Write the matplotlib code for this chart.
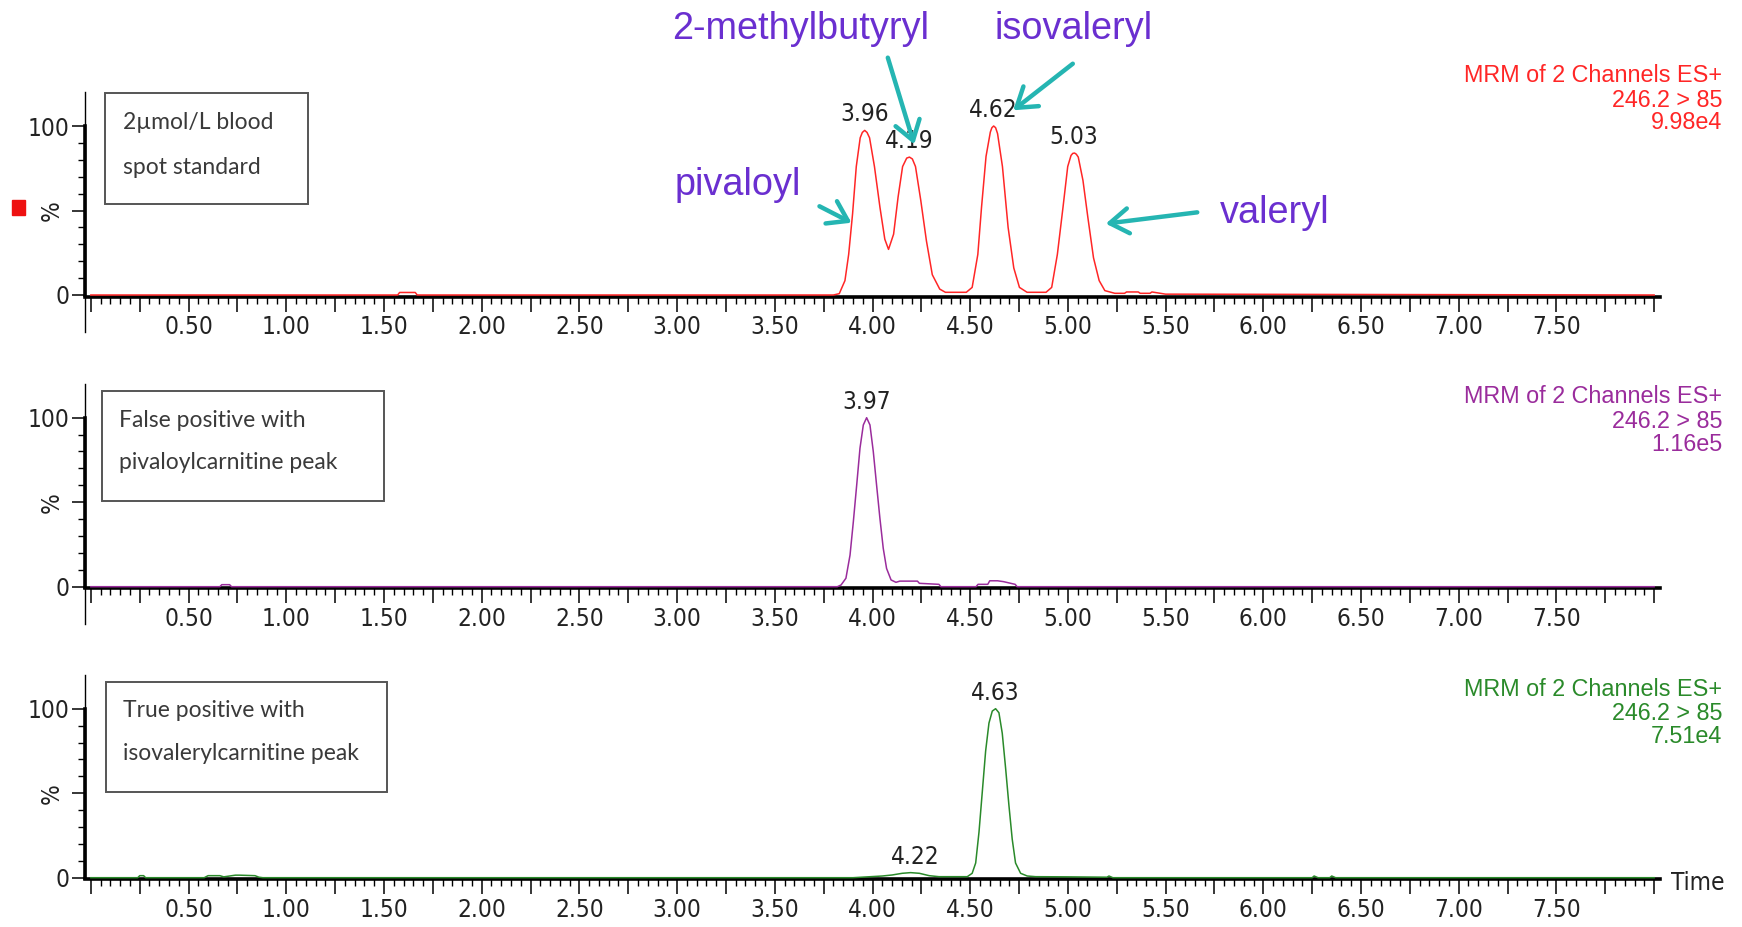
import numpy as np
import matplotlib
matplotlib.use('Agg')
import matplotlib.pyplot as plt
from matplotlib.ticker import MultipleLocator, FixedLocator, FuncFormatter
from matplotlib.patches import Rectangle, FancyArrowPatch
from matplotlib import font_manager

# ---- data (time in min, intensity in %) ----
time_std = [0.00, 1.57, 1.58, 1.66, 1.67, 3.80, 3.83, 3.859, 3.878, 3.898, 3.917,
            3.937, 3.948, 3.96, 3.972, 3.985, 4.01, 4.038, 4.063, 4.082, 4.108,
            4.131, 4.154, 4.175, 4.189, 4.204, 4.22, 4.247, 4.276, 4.306, 4.344,
            4.373, 4.48, 4.51, 4.539, 4.558, 4.581, 4.603, 4.611, 4.62, 4.63,
            4.64, 4.665, 4.694, 4.723, 4.752, 4.791, 4.888, 4.917, 4.946, 4.975,
            4.999, 5.016, 5.025, 5.034, 5.043, 5.053, 5.077, 5.102, 5.131, 5.16,
            5.189, 5.24, 5.29, 5.30, 5.36, 5.37, 5.42, 5.43, 5.50, 8.00]
int_std = [0, 0, 1.5, 1.5, 0, 0, 0.8, 8.5, 24, 48, 76,
           93, 96.2, 97.4, 96.2, 93, 76, 52, 33, 27, 36,
           58, 76, 81, 81.6, 80.5, 76, 56, 32, 12, 3.5,
           1.6, 1.6, 4.5, 24, 52, 82, 96.4, 99, 100, 99,
           95.5, 76, 40, 16, 4.5, 1.6, 1.6, 4.5, 24, 52,
           76, 82.6, 83.8, 84, 83.3, 81.6, 67.8, 46, 22, 8.5,
           2.6, 1.0, 1.0, 1.8, 1.8, 1.0, 1.0, 1.8, 0.5, 0]

time_fp = [0.00, 0.66, 0.67, 0.71, 0.72, 3.82, 3.839, 3.864, 3.885, 3.902, 3.919,
           3.936, 3.953, 3.97, 3.987, 4.004, 4.021, 4.038, 4.055, 4.072, 4.095,
           4.12, 4.14, 4.23, 4.24, 4.34, 4.35, 4.53, 4.54, 4.59, 4.60, 4.64,
           4.67, 4.73, 4.74, 8.00]
int_fp = [0, 0, 1.2, 1.2, 0, 0, 1, 5, 18.7, 38.5, 60,
          82, 95.7, 100, 95.7, 80, 60, 40.4, 22.7, 10.8, 4,
          2.6, 3.3, 3.3, 2, 1.4, 0, 0, 1.4, 1.4, 3.5, 3.5,
          3, 1.4, 0, 0]

time_tp = [0.00, 0.24, 0.25, 0.27, 0.28, 0.58, 0.60, 0.66, 0.68, 0.74, 0.76,
           0.84, 0.86, 0.88, 3.90, 4.05, 4.10, 4.152, 4.195, 4.24, 4.29,
           4.34, 4.485, 4.51, 4.528, 4.545, 4.562, 4.579, 4.596, 4.613, 4.63,
           4.647, 4.664, 4.681, 4.698, 4.715, 4.732, 4.758, 4.792, 4.835, 5.00,
           5.20, 5.21, 5.23, 6.25, 6.26, 6.28, 6.34, 6.35, 6.37, 8.00]
int_tp = [0, 0, 1.2, 1.2, 0, 0, 1.2, 1.2, 0.5, 1.5, 1.5,
          1.2, 0.3, 0, 0, 1, 1.6, 2.6, 3, 2.6, 1.2,
          0.6, 0.6, 2.6, 8.7, 27, 51, 75, 91.5, 98.6, 100,
          97.6, 85.5, 65, 43, 22.8, 8.7, 2.6, 1, 0.6, 0.5,
          0.3, 1.0, 0, 0, 1.0, 0, 0, 1.0, 0, 0]

peaks_std = ['3.96', '4.19', '4.62', '5.03']
peaks_fp = ['3.97']
peaks_tp = ['4.22', '4.63']

box_texts = [['2µmol/L blood', 'spot standard'],
             ['False positive with', 'pivaloylcarnitine peak'],
             ['True positive with', 'isovalerylcarnitine peak']]
scale_texts = ['9.98e4', '1.16e5', '7.51e4']
channel_text = ['MRM of 2 Channels ES+', '246.2 > 85']
colours = ['#ff2626', '#9a2c9c', '#2a8a2a']

compounds = ['pivaloyl', '2-methylbutyryl', 'isovaleryl', 'valeryl']

# ---- figure ----
W, H = 1742, 927
fig = plt.figure(figsize=(W / 100, H / 100), dpi=100)
plt.rcParams['font.family'] = 'Liberation Sans'

# narrow sans for the instrument-style tick labels, if one is installed
tick_prop = {'family': 'Liberation Sans', 'size': 16}
for f in font_manager.fontManager.ttflist:
    if f.name == 'Liberation Sans Narrow' and f.weight in (400, 'normal') and f.style == 'normal':
        tick_prop = {'fname': f.fname, 'size': 19.5}
        break
    if f.name == 'DejaVu Sans' and f.stretch == 'condensed' and f.weight in (400, 'normal') \
            and f.style == 'normal':
        tick_prop = {'fname': f.fname, 'size': 17.5}
tick_fp = font_manager.FontProperties(**tick_prop)


def fx(px):
    return px / W


def fy(py):
    return 1 - py / H


teal = '#25b5b2'
purple = '#6a2fd0'
dark = '#222222'

traces = [(time_std, int_std, peaks_std), (time_fp, int_fp, peaks_fp),
          (time_tp, int_tp, peaks_tp)]
zero_px = [295.0, 586.7, 877.7]
px_per_pct = 1.69
ylo, yhi = -22, 120
boxes = [(0.073, 53.8, 1.11, 119.3), (0.055, 50.7, 1.50, 115.8),
         (0.075, 50.5, 1.518, 116.0)]
text_pos = [(0.164, 101.8, 75.7), (0.143, 98.6, 73.2), (0.162, 98.8, 73.6)]
mrm_y = [(82, 107, 129), (403, 428, 451), (696, 720, 743)]

for k, (t, y, pk) in enumerate(traces):
    bottom_px = zero_px[k] + (-ylo) * px_per_pct
    height = (yhi - ylo) * px_per_pct / H
    ax = fig.add_axes([fx(85), fy(bottom_px), 1575 / W, height])
    c = colours[k]
    ax.plot(t, y, color=c, lw=1.1, zorder=5)
    ax.set_xlim(-0.03, 8.03)
    ax.set_ylim(ylo, yhi)

    for s in ('top', 'right'):
        ax.spines[s].set_visible(False)
    ax.spines['bottom'].set_position(('data', -1.0))
    ax.spines['bottom'].set_linewidth(2.6)
    ax.spines['left'].set_bounds(0, 100)
    ax.spines['left'].set_linewidth(2.6)
    ymin_frac = 0 if k < 2 else (0 - ylo) / (yhi - ylo)
    ax.axvline(-0.03, ymin=ymin_frac, ymax=1, color='k', lw=1.0, clip_on=False)

    ax.xaxis.set_major_locator(MultipleLocator(0.25))
    ax.xaxis.set_minor_locator(MultipleLocator(0.05))
    ax.xaxis.set_major_formatter(FuncFormatter(
        lambda v, p: '%.2f' % v if (0.4 < v < 7.6 and abs(v * 2 - round(v * 2)) < 1e-6) else ''))
    ax.yaxis.set_major_locator(FixedLocator([0, 50, 100]))
    ax.yaxis.set_minor_locator(FixedLocator([10, 20, 30, 40, 60, 70, 80, 90]))
    ax.yaxis.set_major_formatter(FuncFormatter(lambda v, p: {0: '0', 100: '100'}.get(int(v), '')))
    ax.tick_params(axis='x', which='major', direction='out', length=10.5, width=1.1, pad=3)
    ax.tick_params(axis='x', which='minor', direction='out', length=5, width=1.0)
    ax.tick_params(axis='y', which='major', direction='out', length=9.5, width=1.1, pad=2)
    ax.tick_params(axis='y', which='minor', direction='out', length=5, width=1.0)
    for lab in ax.get_xticklabels() + ax.get_yticklabels():
        lab.set_fontproperties(tick_fp)
        lab.set_color(dark)

    ax.text(-0.14, 50, '%', rotation=90, ha='right', va='center',
            fontproperties=tick_fp, color=dark)

    for p in pk:
        tp = float(p)
        ax.annotate(p, xy=(tp, np.interp(tp, t, y)), xytext=(0, 3),
                    textcoords='offset points', ha='center', va='bottom',
                    fontproperties=tick_fp, color=dark)

    x0, y0, x1, y1 = boxes[k]
    ax.add_patch(Rectangle((x0, y0), x1 - x0, y1 - y0, fill=False,
                           edgecolor='#555555', lw=1.4, clip_on=False))
    tx, ty1, ty2 = text_pos[k]
    for line, ty in zip(box_texts[k], (ty1, ty2)):
        ax.text(tx, ty, line, family='Lato', fontsize=16.5, color='#3a3a3a',
                ha='left', va='center')

    for line, py in zip(channel_text + [scale_texts[k]], mrm_y[k]):
        fig.text(fx(1722), fy(py), line, ha='right', va='baseline',
                 fontsize=16.8, color=c)

fig.text(fx(1671), fy(883), 'Time', ha='left', va='center',
         fontproperties=tick_fp, color=dark)

# red channel marker at the left of the top trace
fig.patches.append(Rectangle((fx(12), fy(215)), 13 / W, 15 / H,
                             transform=fig.transFigure, color='#ee1111'))

# compound labels and arrows (figure pixel positions)
label_pos = [(675, 195), (672, 39), (994, 39), (1220, 223)]
arrows = [((817, 205), (854, 224)), ((887, 55), (915, 147)),
          ((1075, 62), (1011, 112)), ((1200, 212), (1103, 224))]
for name, (lx, ly) in zip(compounds, label_pos):
    fig.text(fx(lx), fy(ly), name, ha='left', va='baseline',
             fontsize=27.3, color=purple)
for (a, b) in arrows:
    fig.add_artist(FancyArrowPatch((fx(a[0]), fy(a[1])), (fx(b[0]), fy(b[1])),
                                   transform=fig.transFigure,
                                   arrowstyle='->,head_length=0.45,head_width=0.3',
                                   mutation_scale=30, lw=3.2, color=teal))

fig.savefig('out.png', dpi=100)
